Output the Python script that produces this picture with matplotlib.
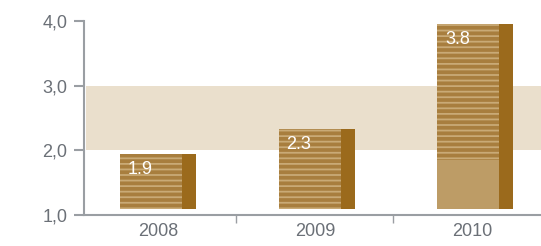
import matplotlib.pyplot as plt
from matplotlib.patches import Rectangle

years = ["2008", "2009", "2010"]
labels = ["1.9", "2.3", "3.8"]
bar_tops = [1.94, 2.33, 3.96]   # drawn heights as seen in the picture
bar_base = 1.09
band = (2.0, 3.0)
yticks = [1.0, 2.0, 3.0, 4.0]
ytick_labels = ["1,0", "2,0", "3,0", "4,0"]

grey = "#9a9ea3"
text_grey = "#6b7077"
front = "#a87e3e"
stripe = "#c9aa76"
side = "#9b6a1c"
plain = "#bd9c66"

plt.rcParams["font.family"] = ["Liberation Sans", "DejaVu Sans"]
plt.rcParams["hatch.linewidth"] = 1.3

fig = plt.figure(figsize=(5.41, 2.46), dpi=100)
ax = fig.add_axes([84 / 541, 31 / 246, 457 / 541, 194 / 246])
ax.set_xlim(-0.47, 2.44)
ax.set_ylim(1.0, 4.0)

# shaded band
ax.add_patch(Rectangle((-0.46, band[0]), 3.0, band[1] - band[0],
                       facecolor="#eadfcc", edgecolor="none", zorder=0))

fw, sw = 0.395, 0.089
for i, (top, lab) in enumerate(zip(bar_tops, labels)):
    x0 = i - 0.24 + 0.01 * i
    h = top - bar_base
    ax.add_patch(Rectangle((x0, bar_base), fw, h, facecolor=front,
                           edgecolor=stripe, hatch="---", linewidth=0, zorder=2))
    if i == 2:
        # lower part of the tall bar is plain
        ax.add_patch(Rectangle((x0, bar_base), fw, 1.85 - bar_base,
                               facecolor=plain, edgecolor="none", zorder=3))
    ax.add_patch(Rectangle((x0 + fw, bar_base), sw, h, facecolor=side,
                           edgecolor="none", zorder=2))
    ax.text(x0 + 0.05, top - 0.11, lab, color="white", fontsize=13,
            ha="left", va="top", zorder=4)

for s in ["top", "right"]:
    ax.spines[s].set_visible(False)
for s in ["left", "bottom"]:
    ax.spines[s].set_color(grey)
    ax.spines[s].set_linewidth(1.5)

ax.set_yticks(yticks)
ax.set_yticklabels(ytick_labels)
ax.tick_params(axis="y", colors=grey, labelcolor=text_grey, labelsize=13,
               length=7, width=1.5, pad=5)
ax.set_xticks(range(len(years)))
ax.set_xticklabels(years)
ax.set_xticks([0.5, 1.5], minor=True)
ax.tick_params(axis="x", which="major", length=0, labelcolor=text_grey,
               labelsize=13, pad=6)
ax.tick_params(axis="x", which="minor", length=6, width=1.0, colors=grey)

fig.savefig("out.png", dpi=100)
